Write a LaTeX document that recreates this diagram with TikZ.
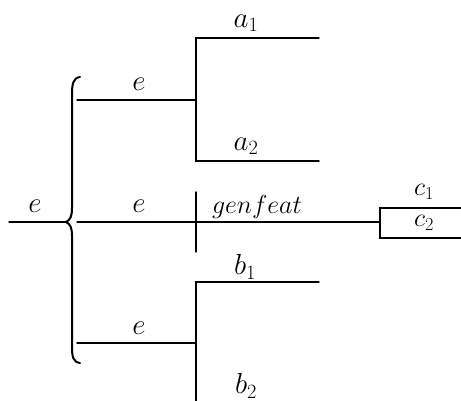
\RequirePackage{fix-cm}
\documentclass[tikz,border=0pt]{standalone}
\begin{document}
\begin{tikzpicture}[x=1pt,y=-1pt,
  ln/.style={line width=1.4pt, line cap=round},
  lbl/.style={inner sep=0pt, font=\fontsize{29}{33}\selectfont},
  brc/.style={line width=2pt, line cap=round}]
\useasboundingbox (0,0) rectangle (461,401);
% coordinates
\coordinate (L0) at (9,222);
\coordinate (tip) at (66,222);
\coordinate (T0) at (77,100);
\coordinate (T1) at (196,100);
\coordinate (M0) at (77,222);
\coordinate (M1) at (380,222);
\coordinate (B0) at (77,343);
\coordinate (B1) at (196,343);
\coordinate (Atop) at (196,38);
\coordinate (Abot) at (196,161);
\coordinate (Ar1) at (319,38);
\coordinate (Ar2) at (319,161);
\coordinate (Gt) at (196,192);
\coordinate (Gb) at (196,252);
\coordinate (Btop) at (196,282);
\coordinate (Bbot) at (196,401);
\coordinate (Br1) at (319,282);
\coordinate (Ct) at (380,208);
\coordinate (Cb) at (380,238);
\coordinate (Cr1) at (461,208);
\coordinate (Cr2) at (461,238);
% brace
\draw[brc] (80,77) .. controls (73,78) and (72,84) .. (72,95) -- (72,208)
  .. controls (72,217) and (70,220) .. (tip)
  .. controls (70,224) and (72,227) .. (72,236) -- (72,346)
  .. controls (72,357) and (73,362) .. (80,363);
% lines
\draw[ln] (L0) -- (tip);
\draw[ln] (T0) -- (T1);
\draw[ln] (M0) -- (M1);
\draw[ln] (B0) -- (B1);
\draw[ln] (Ar1) -- (Atop) -- (Abot) -- (Ar2);
\draw[ln] (Gt) -- (Gb);
\draw[ln] (Br1) -- (Btop) -- (Bbot);
\draw[ln] (Cr1) -- (Ct) -- (Cb) -- (Cr2);
% labels
\node[lbl] (e0) at (35,206) {$e$};
\node[lbl] (e1) at (139,84) {$e$};
\node[lbl] (e2) at (139,206) {$e$};
\node[lbl] (e3) at (139,328) {$e$};
\node[lbl] (a1) at (246,23) {$a_1$};
\node[lbl] (a2) at (246,146) {$a_2$};
\node[lbl, font=\fontsize{26}{30}\selectfont] (gf) at (257,207) {$genfeat$};
\node[lbl] (b1) at (245,267) {$b_1$};
\node[lbl] (b2) at (246,386) {$b_2$};
\node[lbl, font=\fontsize{26}{30}\selectfont] (c1) at (424,192) {$c_1$};
\node[lbl, font=\fontsize{26}{30}\selectfont] (c2) at (424,223) {$c_2$};
\end{tikzpicture}
\end{document}
